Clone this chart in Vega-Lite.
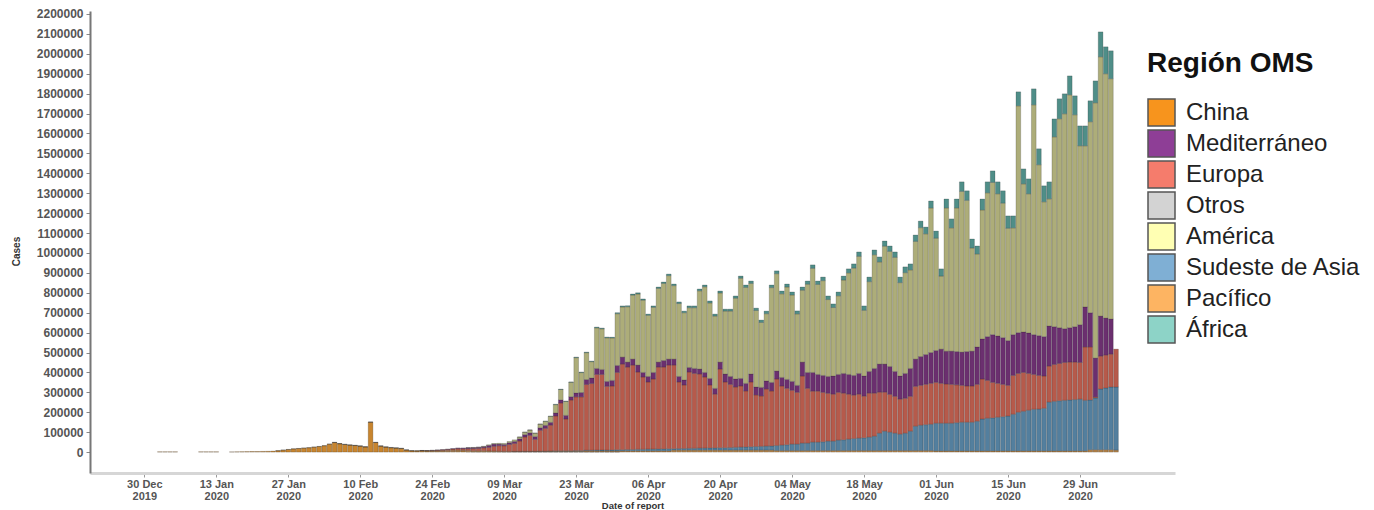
{
"$schema": "https://vega.github.io/schema/vega-lite/v6.json",
"autosize": "none",
"width": 1085,
"height": 462,
"padding": {"left": 90, "top": 11, "right": 199, "bottom": 37},
"background": "white",
"config": {"view": {"stroke": null}, "font": "Liberation Sans"},
"data": {"values": [
{"d":"2020-01-02","chi":1500},{"d":"2020-01-03","chi":1500},{"d":"2020-01-04","chi":1500},{"d":"2020-01-05","chi":1500},
{"d":"2020-01-10","chi":1500},{"d":"2020-01-11","chi":1500},{"d":"2020-01-12","chi":1500},{"d":"2020-01-13","chi":1500},
{"d":"2020-01-16","chi":1000},{"d":"2020-01-17","chi":1500},{"d":"2020-01-18","chi":2000},{"d":"2020-01-19","chi":2500},
{"d":"2020-01-20","chi":3000},{"d":"2020-01-21","chi":3000},{"d":"2020-01-22","chi":3500},{"d":"2020-01-23","chi":4000},
{"d":"2020-01-24","chi":5000},{"d":"2020-01-25","chi":7000,"pac":500},{"d":"2020-01-26","chi":10000,"pac":500},
{"d":"2020-01-27","chi":13000,"pac":500},{"d":"2020-01-28","chi":16000,"pac":500},{"d":"2020-01-29","chi":18000,"pac":500},
{"d":"2020-01-30","chi":20000,"pac":500},{"d":"2020-01-31","chi":22000,"pac":500},{"d":"2020-02-01","chi":25000,"pac":500},
{"d":"2020-02-02","chi":28000,"pac":500},{"d":"2020-02-03","chi":32000,"pac":500},{"d":"2020-02-04","chi":40000,"pac":500},
{"d":"2020-02-05","chi":48000,"pac":500,"otr":500},{"d":"2020-02-06","chi":42000,"pac":500,"otr":500},
{"d":"2020-02-07","chi":38000,"pac":500,"otr":1000},{"d":"2020-02-08","chi":35000,"pac":500,"otr":500},
{"d":"2020-02-09","chi":33000,"pac":500,"otr":600},{"d":"2020-02-10","chi":30000,"pac":500,"otr":600},
{"d":"2020-02-11","chi":26000,"pac":500,"otr":400},{"d":"2020-02-12","chi":150000,"pac":500,"otr":400},
{"d":"2020-02-13","chi":48000,"pac":500,"otr":500},{"d":"2020-02-14","chi":30000,"pac":500,"otr":700},
{"d":"2020-02-15","chi":25000,"pac":500,"otr":700},{"d":"2020-02-16","chi":22000,"pac":500,"otr":1000},
{"d":"2020-02-17","chi":20000,"pac":500,"otr":900},{"d":"2020-02-18","chi":18000,"pac":500,"otr":800},
{"d":"2020-02-19","chi":10000,"pac":500,"otr":800},{"d":"2020-02-20","chi":6000,"pac":1000,"otr":500},
{"d":"2020-02-21","chi":5000,"pac":1500,"eur":200},{"d":"2020-02-22","chi":5000,"pac":2500,"eur":500,"med":300},
{"d":"2020-02-23","chi":4500,"pac":2000,"eur":1000,"med":300},{"d":"2020-02-24","chi":4000,"pac":2500,"eur":2000,"med":500},
{"d":"2020-02-25","chi":4000,"pac":3000,"eur":3000,"med":800},{"d":"2020-02-26","chi":4000,"pac":3500,"eur":4000,"med":1000},
{"d":"2020-02-27","chi":3500,"pac":5000,"eur":5000,"med":1500},{"d":"2020-02-28","chi":3500,"pac":6000,"eur":6000,"med":2000},
{"d":"2020-02-29","chi":4000,"pac":6000,"eur":8000,"med":3000},
{"d":"2020-03-01","chi":5000,"pac":4000,"eur":8000,"med":4000},
{"d":"2020-03-02","chi":2000,"pac":6000,"eur":9000,"med":5000,"ame":500},
{"d":"2020-03-03","chi":1500,"pac":5000,"eur":11000,"med":5000,"ame":1000},
{"d":"2020-03-04","chi":1200,"pac":5000,"eur":12000,"med":6000,"ame":1000},
{"d":"2020-03-05","chi":1500,"pac":5000,"eur":15000,"med":6000,"ame":2000},
{"d":"2020-03-06","chi":1500,"pac":4000,"eur":18000,"med":10000,"ame":3000},
{"d":"2020-03-07","chi":1000,"pac":4000,"eur":24000,"med":11000,"ame":3000},
{"d":"2020-03-08","chi":1000,"pac":3000,"eur":28000,"med":8000,"ame":4000},
{"d":"2020-03-09","chi":500,"pac":3000,"eur":28000,"med":7000,"ame":5000},
{"d":"2020-03-10","chi":300,"pac":3000,"eur":35000,"med":9000,"ame":6000},
{"d":"2020-03-11","chi":300,"pac":3000,"sea":200,"eur":40000,"med":10000,"ame":8000},
{"d":"2020-03-12","chi":300,"pac":3000,"sea":300,"eur":52000,"med":11000,"ame":9000,"afr":200},
{"d":"2020-03-13","chi":300,"pac":3000,"sea":500,"eur":72000,"med":12000,"ame":12000,"afr":300},
{"d":"2020-03-14","chi":300,"pac":3000,"sea":500,"eur":80000,"med":13000,"ame":14000,"afr":400},
{"d":"2020-03-15","chi":300,"pac":3000,"sea":500,"eur":60000,"med":14000,"ame":17000,"afr":500},
{"d":"2020-03-16","chi":300,"pac":3000,"sea":1000,"eur":105000,"med":13000,"ame":18000,"afr":500},
{"d":"2020-03-17","chi":300,"pac":3000,"sea":1000,"eur":115000,"med":15000,"ame":20000,"afr":1000},
{"d":"2020-03-18","chi":300,"pac":4000,"sea":1000,"eur":130000,"med":14000,"ame":30000,"afr":1000},
{"d":"2020-03-19","chi":300,"pac":4000,"sea":2000,"eur":175000,"med":15000,"ame":42000,"afr":2000},
{"d":"2020-03-20","chi":300,"pac":4000,"sea":2000,"eur":240000,"med":16000,"ame":52000,"afr":2000},
{"d":"2020-03-21","chi":300,"pac":4000,"sea":2000,"eur":160000,"med":18000,"ame":70000,"afr":2000},
{"d":"2020-03-22","chi":300,"pac":4000,"sea":2000,"eur":255000,"med":17000,"ame":72000,"afr":2000},
{"d":"2020-03-23","chi":300,"pac":4000,"sea":3000,"eur":270000,"med":20000,"ame":177000,"afr":3000},
{"d":"2020-03-24","chi":300,"pac":4000,"sea":3000,"eur":270000,"med":22000,"ame":100000,"afr":3000},
{"d":"2020-03-25","chi":300,"pac":5000,"sea":4000,"eur":330000,"med":25000,"ame":135000,"afr":3000},
{"d":"2020-03-26","chi":300,"pac":5000,"sea":4000,"eur":335000,"med":28000,"ame":82000,"afr":3000},
{"d":"2020-03-27","chi":300,"pac":5000,"sea":4700,"eur":380000,"med":30000,"ame":204000,"afr":4000},
{"d":"2020-03-28","chi":300,"pac":5000,"sea":4700,"eur":380000,"med":25000,"ame":204000,"afr":4000},
{"d":"2020-03-29","chi":300,"pac":5000,"sea":4700,"eur":320000,"med":25000,"ame":219000,"afr":4000},
{"d":"2020-03-30","chi":300,"pac":5000,"sea":5700,"eur":321000,"med":28000,"ame":213000,"afr":4000},
{"d":"2020-03-31","chi":300,"pac":5000,"sea":6700,"eur":388000,"med":35000,"ame":260000,"afr":5000},
{"d":"2020-04-01","pac":6000,"sea":6000,"eur":430000,"med":35000,"ame":252000,"afr":5000},
{"d":"2020-04-02","pac":6000,"sea":7000,"eur":414000,"med":25000,"ame":278000,"afr":5000},
{"d":"2020-04-03","pac":6000,"sea":7000,"eur":424000,"med":30000,"ame":321000,"afr":6000},
{"d":"2020-04-04","pac":6000,"sea":8000,"eur":388000,"med":35000,"ame":357000,"afr":6000},
{"d":"2020-04-05","pac":6000,"sea":8000,"eur":363000,"med":23000,"ame":363000,"afr":6000},
{"d":"2020-04-06","pac":6000,"sea":9000,"eur":337000,"med":28000,"ame":307000,"afr":6000},
{"d":"2020-04-07","pac":6000,"sea":9000,"eur":352000,"med":33000,"ame":327000,"afr":7000},
{"d":"2020-04-08","pac":6000,"sea":10000,"eur":411000,"med":25000,"ame":370000,"afr":7000},
{"d":"2020-04-09","pac":6000,"sea":10000,"eur":411000,"med":33000,"ame":387000,"afr":7000},
{"d":"2020-04-10","pac":6000,"sea":11000,"eur":420000,"med":30000,"ame":419000,"afr":8000},
{"d":"2020-04-11","pac":10000,"sea":7000,"eur":420000,"med":30000,"ame":369000,"afr":8000},
{"d":"2020-04-12","pac":10000,"sea":8000,"eur":334000,"med":28000,"ame":366000,"afr":8000},
{"d":"2020-04-13","pac":10000,"sea":8000,"eur":319000,"med":25000,"ame":338000,"afr":8000},
{"d":"2020-04-14","pac":10000,"sea":9000,"eur":383000,"med":23000,"ame":300000,"afr":9000},
{"d":"2020-04-15","pac":10000,"sea":9000,"eur":376000,"med":25000,"ame":305000,"afr":9000},
{"d":"2020-04-16","pac":10000,"sea":10000,"eur":372000,"med":25000,"ame":393000,"afr":9000},
{"d":"2020-04-17","pac":10000,"sea":10000,"eur":357000,"med":23000,"ame":430000,"afr":9000},
{"d":"2020-04-18","pac":10000,"sea":11000,"eur":316000,"med":33000,"ame":379000,"afr":10000},
{"d":"2020-04-19","pac":10000,"sea":11000,"eur":270000,"med":29000,"ame":363000,"afr":10000},
{"d":"2020-04-20","pac":10000,"sea":12000,"eur":395000,"med":35000,"ame":347000,"afr":10000},
{"d":"2020-04-21","pac":10000,"sea":12000,"eur":330000,"med":40000,"ame":316000,"afr":10000},
{"d":"2020-04-22","pac":10000,"sea":13000,"eur":317000,"med":40000,"ame":328000,"afr":10000},
{"d":"2020-04-23","pac":10000,"sea":14000,"eur":303000,"med":40000,"ame":406000,"afr":11000},
{"d":"2020-04-24","pac":10000,"sea":15000,"eur":307000,"med":38000,"ame":503000,"afr":11000},
{"d":"2020-04-25","pac":10000,"sea":16000,"eur":281000,"med":38000,"ame":482000,"afr":12000},
{"d":"2020-04-26","pac":10000,"sea":17000,"eur":325000,"med":40000,"ame":455000,"afr":12000},
{"d":"2020-04-27","pac":10000,"sea":18000,"eur":259000,"med":40000,"ame":384000,"afr":12000},
{"d":"2020-04-28","pac":10000,"sea":19000,"eur":253000,"med":43000,"ame":326000,"afr":12000},
{"d":"2020-04-29","pac":10000,"sea":20000,"eur":287000,"med":40000,"ame":338000,"afr":13000},
{"d":"2020-04-30","pac":10000,"sea":21000,"eur":276000,"med":43000,"ame":476000,"afr":13000},
{"d":"2020-05-01","pac":8000,"sea":25000,"eur":334000,"med":40000,"ame":489000,"afr":14000},
{"d":"2020-05-02","pac":8000,"sea":27000,"eur":297000,"med":43000,"ame":420000,"afr":14000},
{"d":"2020-05-03","pac":8000,"sea":29000,"eur":283000,"med":45000,"ame":464000,"afr":15000},
{"d":"2020-05-04","pac":8000,"sea":32000,"eur":270000,"med":45000,"ame":434000,"afr":15000},
{"d":"2020-05-05","pac":8000,"sea":32000,"eur":260000,"med":35000,"ame":359000,"afr":15000},
{"d":"2020-05-06","pac":8000,"sea":37000,"eur":337000,"med":70000,"ame":361000,"afr":16000},
{"d":"2020-05-07","pac":8000,"sea":37000,"eur":275000,"med":80000,"ame":443000,"afr":16000},
{"d":"2020-05-08","pac":8000,"sea":42000,"eur":256000,"med":94000,"ame":523000,"afr":17000},
{"d":"2020-05-09","pac":8000,"sea":42000,"eur":256000,"med":84000,"ame":452000,"afr":17000},
{"d":"2020-05-10","pac":8000,"sea":44000,"eur":248000,"med":85000,"ame":476000,"afr":18000},
{"d":"2020-05-11","pac":8000,"sea":47000,"eur":240000,"med":85000,"ame":386000,"afr":18000},
{"d":"2020-05-12","pac":8000,"sea":47000,"eur":236000,"med":91000,"ame":344000,"afr":18000},
{"d":"2020-05-13","pac":8000,"sea":52000,"eur":240000,"med":90000,"ame":395000,"afr":19000},
{"d":"2020-05-14","pac":8000,"sea":54000,"eur":234000,"med":99000,"ame":469000,"afr":20000},
{"d":"2020-05-15","pac":8000,"sea":57000,"eur":226000,"med":99000,"ame":510000,"afr":20000},
{"d":"2020-05-16","pac":8000,"sea":60000,"eur":218000,"med":99000,"ame":539000,"afr":21000},
{"d":"2020-05-17","pac":8000,"sea":62000,"eur":221000,"med":104000,"ame":588000,"afr":22000},
{"d":"2020-05-18","pac":8000,"sea":64000,"eur":209000,"med":101000,"ame":330000,"afr":22000},
{"d":"2020-05-19","pac":8000,"sea":67000,"eur":221000,"med":109000,"ame":451000,"afr":23000},
{"d":"2020-05-20","pac":8000,"sea":72000,"eur":216000,"med":124000,"ame":571000,"afr":24000},
{"d":"2020-05-21","pac":8000,"sea":87000,"eur":206000,"med":141000,"ame":513000,"afr":25000},
{"d":"2020-05-22","pac":8000,"sea":97000,"eur":196000,"med":141000,"ame":592000,"afr":26000},
{"d":"2020-05-23","pac":8000,"sea":92000,"eur":190000,"med":140000,"ame":578000,"afr":27000},
{"d":"2020-05-24","pac":8000,"sea":87000,"eur":185000,"med":125000,"ame":573000,"afr":27000},
{"d":"2020-05-25","pac":8000,"sea":82000,"eur":176000,"med":116000,"ame":469000,"afr":28000},
{"d":"2020-05-26","pac":8000,"sea":87000,"eur":175000,"med":125000,"ame":506000,"afr":29000},
{"d":"2020-05-27","pac":8000,"sea":97000,"eur":175000,"med":140000,"ame":495000,"afr":30000},
{"d":"2020-05-28","pac":8000,"sea":122000,"eur":200000,"med":137000,"ame":591000,"afr":32000},
{"d":"2020-05-29","pac":8000,"sea":127000,"eur":200000,"med":145000,"ame":647000,"afr":33000},
{"d":"2020-05-30","pac":8000,"sea":130000,"eur":202000,"med":150000,"ame":606000,"afr":34000},
{"d":"2020-05-31","pac":8000,"sea":132000,"eur":205000,"med":155000,"ame":726000,"afr":35000},
{"d":"2020-06-01","pac":6000,"sea":139000,"eur":205000,"med":160000,"ame":564000,"afr":36000},
{"d":"2020-06-02","pac":6000,"sea":139000,"eur":200000,"med":172000,"ame":367000,"afr":36000},
{"d":"2020-06-03","pac":6000,"sea":139000,"eur":197000,"med":165000,"ame":719000,"afr":45000},
{"d":"2020-06-04","pac":6000,"sea":139000,"eur":195000,"med":167000,"ame":619000,"afr":45000},
{"d":"2020-06-05","pac":6000,"sea":142000,"eur":190000,"med":167000,"ame":721000,"afr":45000},
{"d":"2020-06-06","pac":6000,"sea":144000,"eur":185000,"med":167000,"ame":807000,"afr":48000},
{"d":"2020-06-07","pac":6000,"sea":144000,"eur":182000,"med":173000,"ame":759000,"afr":48000},
{"d":"2020-06-08","pac":6000,"sea":144000,"eur":182000,"med":175000,"ame":518000,"afr":45000},
{"d":"2020-06-09","pac":6000,"sea":149000,"eur":185000,"med":188000,"ame":467000,"afr":40000},
{"d":"2020-06-10","pac":6000,"sea":160000,"eur":201000,"med":201000,"ame":648000,"afr":55000},
{"d":"2020-06-11","pac":6000,"sea":164000,"eur":190000,"med":220000,"ame":722000,"afr":55000},
{"d":"2020-06-12","pac":6000,"sea":166000,"eur":178000,"med":240000,"ame":764000,"afr":58000},
{"d":"2020-06-13","pac":6000,"sea":169000,"eur":170000,"med":238000,"ame":714000,"afr":60000},
{"d":"2020-06-14","pac":6000,"sea":172000,"eur":162000,"med":235000,"ame":675000,"afr":62000},
{"d":"2020-06-15","pac":6000,"sea":175000,"eur":154000,"med":225000,"ame":564000,"afr":62000},
{"d":"2020-06-16","pac":6000,"sea":184000,"eur":195000,"med":205000,"ame":536000,"afr":60000},
{"d":"2020-06-17","pac":6000,"sea":194000,"eur":195000,"med":205000,"ame":1139000,"afr":70000},
{"d":"2020-06-18","pac":6000,"sea":199000,"eur":195000,"med":203000,"ame":744000,"afr":75000},
{"d":"2020-06-19","pac":6000,"sea":204000,"eur":185000,"med":203000,"ame":699000,"afr":75000},
{"d":"2020-06-20","pac":6000,"sea":209000,"eur":175000,"med":200000,"ame":1154000,"afr":80000},
{"d":"2020-06-21","pac":6000,"sea":210000,"eur":169000,"med":200000,"ame":858000,"afr":80000},
{"d":"2020-06-22","pac":6000,"sea":214000,"eur":162000,"med":198000,"ame":677000,"afr":80000},
{"d":"2020-06-23","pac":6000,"sea":245000,"eur":181000,"med":201000,"ame":639000,"afr":85000},
{"d":"2020-06-24","pac":6000,"sea":249000,"eur":185000,"med":190000,"ame":953000,"afr":90000},
{"d":"2020-06-25","pac":6000,"sea":252000,"eur":187000,"med":180000,"ame":1049000,"afr":100000},
{"d":"2020-06-26","pac":6000,"sea":254000,"eur":190000,"med":170000,"ame":1079000,"afr":100000},
{"d":"2020-06-27","pac":6000,"sea":256000,"eur":190000,"med":173000,"ame":1169000,"afr":95000},
{"d":"2020-06-28","pac":6000,"sea":258000,"eur":188000,"med":178000,"ame":1064000,"afr":95000},
{"d":"2020-06-29","pac":6000,"sea":260000,"eur":184000,"med":190000,"ame":898000,"afr":100000},
{"d":"2020-06-30","pac":6000,"sea":254000,"eur":268000,"med":201000,"ame":809000,"afr":100000},
{"d":"2020-07-01","pac":12000,"sea":250000,"eur":266000,"med":172000,"ame":959000,"afr":105000},
{"d":"2020-07-02","pac":12000,"sea":260000,"eur":5000,"med":195000,"ame":1282000,"afr":110000},
{"d":"2020-07-03","pac":12000,"sea":305000,"eur":165000,"med":201000,"ame":1302000,"afr":125000},
{"d":"2020-07-04","pac":12000,"sea":310000,"eur":165000,"med":186000,"ame":1227000,"afr":135000},
{"d":"2020-07-05","pac":12000,"sea":315000,"eur":165000,"med":176000,"ame":1207000,"afr":140000},
{"d":"2020-07-06","pac":10000,"sea":317000,"eur":190000}
]},
"transform": [
{"fold": ["chi","pac","sea","eur","otr","med","ame","afr"], "as": ["region","cases"]},
{"filter": "datum.cases > 0"},
{"lookup": "region", "from": {"data": {"values": [
 {"region":"chi","rank":1},{"region":"pac","rank":2},{"region":"sea","rank":3},{"region":"eur","rank":4},
 {"region":"otr","rank":5},{"region":"med","rank":6},{"region":"ame","rank":7},{"region":"afr","rank":8}]},
 "key": "region", "fields": ["rank"]}}
],
"encoding": {
"x": {"field": "d", "type": "temporal",
 "scale": {"type": "utc", "domain": [{"year":2019,"month":12,"date":20,"hours":9,"minutes":36,"utc":true},{"year":2020,"month":7,"date":16,"hours":12,"utc":true}]},
 "axis": {"title": "Date of report",
  "values": [{"year":2019,"month":12,"date":30,"utc":true},{"year":2020,"month":1,"date":13,"utc":true},{"year":2020,"month":1,"date":27,"utc":true},{"year":2020,"month":2,"date":10,"utc":true},{"year":2020,"month":2,"date":24,"utc":true},{"year":2020,"month":3,"date":9,"utc":true},{"year":2020,"month":3,"date":23,"utc":true},{"year":2020,"month":4,"date":6,"utc":true},{"year":2020,"month":4,"date":20,"utc":true},{"year":2020,"month":5,"date":4,"utc":true},{"year":2020,"month":5,"date":18,"utc":true},{"year":2020,"month":6,"date":1,"utc":true},{"year":2020,"month":6,"date":15,"utc":true},{"year":2020,"month":6,"date":29,"utc":true}],
  "labelExpr": "[utcFormat(datum.value, '%d %b'), utcFormat(datum.value, '%Y')]",
  "labelFont": "Liberation Sans", "labelFontSize": 11, "labelFontWeight": "bold", "labelColor": "#555555",
  "labelLineHeight": 12, "labelPadding": 1, "labelFlush": false, "labelOverlap": false,
  "tickColor": "#999999", "tickSize": 4, "domainColor": "#d6d6d6", "domainWidth": 3, "grid": false,
  "titleFont": "Liberation Sans", "titleFontSize": 9.5, "titleFontWeight": "bold", "titleColor": "#333333", "titleY": 27}},
"y": {"field": "cases", "type": "quantitative",
 "scale": {"domain": [-105000, 2215000], "nice": false, "zero": false},
 "axis": {"title": "Cases",
  "values": [0,100000,200000,300000,400000,500000,600000,700000,800000,900000,1000000,1100000,1200000,1300000,1400000,1500000,1600000,1700000,1800000,1900000,2000000,2100000,2200000],
  "format": "d", "labelFont": "Liberation Sans", "labelFontSize": 12, "labelFontWeight": "bold", "labelColor": "#555555",
  "tickColor": "#888888", "tickSize": 4, "labelPadding": 3, "domainColor": "#777777", "domainWidth": 2, "grid": false,
  "titleFont": "Liberation Sans", "titleFontSize": 10, "titleFontWeight": "bold", "titleColor": "#333333",
  "titleX": -74, "titleY": 240, "titleAlign": "center", "titleBaseline": "middle"}}
},
"layer": [
{"mark": {"type": "bar", "width": 4.7, "stroke": "#222222", "strokeWidth": 0.6, "strokeOpacity": 0.35},
 "encoding": {
  "color": {"field": "region", "type": "nominal",
   "scale": {"domain": ["chi","pac","sea","eur","otr","med","ame","afr"],
    "range": ["#C8852F","#B8864A","#537F9E","#B65A4B","#9A9A9A","#6B2F6F","#ADAD79","#4F8E88"]},
   "legend": null},
  "order": {"field": "rank", "type": "quantitative", "sort": "ascending"}}},
{"mark": {"type": "square", "opacity": 0},
 "encoding": {"fill": {"field": "region", "type": "nominal",
  "scale": {"domain": ["chi","med","eur","otr","ame","sea","pac","afr"],
   "range": ["#F7941D","#8E3E96","#F57C6C","#D3D3D3","#FFFFB3","#7FAFD4","#FDB462","#8DD3C7"]},
  "legend": {"title": "Región OMS", "orient": "none", "legendX": 1057, "legendY": 39, "padding": 0,
   "titleFont": "Liberation Sans", "titleFontSize": 28, "titleFontWeight": "bold", "titleColor": "#111111", "titlePadding": 20,
   "labelFont": "Liberation Sans", "labelFontSize": 24, "labelColor": "#222222", "labelOffset": 10, "labelLimit": 300,
   "symbolType": "square", "symbolSize": 729, "symbolStrokeColor": "#555555", "symbolStrokeWidth": 1.5, "symbolOpacity": 1,
   "rowPadding": -8,
   "labelExpr": "datum.label == 'chi' ? 'China' : datum.label == 'med' ? 'Mediterráneo' : datum.label == 'eur' ? 'Europa' : datum.label == 'otr' ? 'Otros' : datum.label == 'ame' ? 'América' : datum.label == 'sea' ? 'Sudeste de Asia' : datum.label == 'pac' ? 'Pacífico' : 'África'"}}}}
]
}
